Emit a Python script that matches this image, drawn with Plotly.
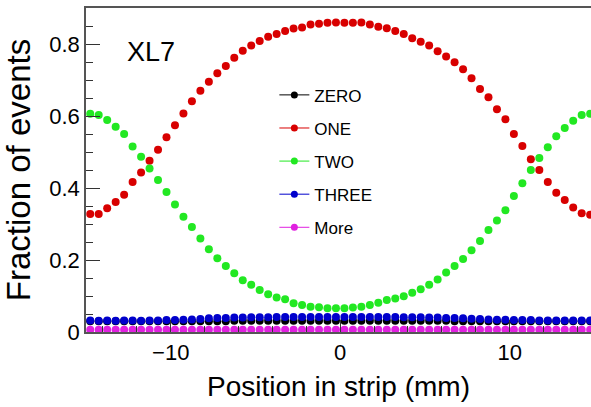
import plotly.graph_objects as go

# bin centres (mm)
x_pos = [-14.75 + 0.5 * i for i in range(60)]

zero = [0.030, 0.030, 0.030, 0.030, 0.030, 0.030, 0.030, 0.030, 0.030, 0.030,
        0.030, 0.030, 0.030, 0.030, 0.030, 0.030, 0.030, 0.031, 0.031, 0.031,
        0.031, 0.031, 0.031, 0.031, 0.031, 0.031, 0.031, 0.031, 0.031, 0.031,
        0.031, 0.031, 0.031, 0.031, 0.031, 0.031, 0.031, 0.031, 0.031, 0.031,
        0.031, 0.031, 0.031, 0.030, 0.030, 0.030, 0.030, 0.030, 0.030, 0.030,
        0.030, 0.030, 0.030, 0.030, 0.030, 0.030, 0.030, 0.030, 0.030, 0.030]

one = [0.328, 0.328, 0.344, 0.361, 0.381, 0.417, 0.443, 0.476, 0.506, 0.541,
       0.574, 0.607, 0.641, 0.670, 0.695, 0.719, 0.739, 0.762, 0.781, 0.796,
       0.808, 0.820, 0.828, 0.836, 0.843, 0.846, 0.854, 0.856, 0.859, 0.860,
       0.859, 0.859, 0.860, 0.854, 0.848, 0.844, 0.836, 0.828, 0.816, 0.806,
       0.796, 0.780, 0.765, 0.749, 0.730, 0.705, 0.675, 0.652, 0.619, 0.591,
       0.550, 0.517, 0.480, 0.450, 0.417, 0.387, 0.367, 0.346, 0.330, 0.326]

two = [0.606, 0.603, 0.589, 0.570, 0.550, 0.515, 0.487, 0.454, 0.422, 0.389,
       0.354, 0.320, 0.292, 0.260, 0.230, 0.205, 0.183, 0.163, 0.144, 0.131,
       0.117, 0.105, 0.096, 0.091, 0.080, 0.075, 0.070, 0.069, 0.066, 0.066,
       0.066, 0.068, 0.070, 0.075, 0.081, 0.089, 0.093, 0.099, 0.109, 0.119,
       0.131, 0.146, 0.165, 0.183, 0.203, 0.227, 0.253, 0.283, 0.310, 0.338,
       0.378, 0.413, 0.450, 0.483, 0.513, 0.544, 0.567, 0.587, 0.603, 0.606]

three = [0.032, 0.031, 0.032, 0.031, 0.032, 0.032, 0.031, 0.032, 0.032, 0.033,
         0.033, 0.034, 0.035, 0.036, 0.038, 0.039, 0.039, 0.040, 0.040, 0.041,
         0.041, 0.041, 0.042, 0.042, 0.042, 0.042, 0.042, 0.042, 0.042, 0.042,
         0.042, 0.042, 0.042, 0.042, 0.042, 0.042, 0.042, 0.041, 0.041, 0.041,
         0.040, 0.040, 0.039, 0.039, 0.038, 0.037, 0.036, 0.035, 0.034, 0.034,
         0.033, 0.033, 0.033, 0.032, 0.032, 0.032, 0.032, 0.032, 0.032, 0.032]

more = [0.006] * 60

names = ["ZERO", "ONE", "TWO", "THREE", "More"]
colors = ["#000000", "#d80000", "#22e822", "#0000cc", "#e020e0"]
series = [zero, one, two, three, more]

fig = go.Figure()
for name, col, ys in zip(names, colors, series):
    fig.add_trace(go.Scatter(x=x_pos, y=ys, mode="markers", name=name,
                             marker=dict(color=col, size=8, line=dict(width=0)),
                             showlegend=False, cliponaxis=False))
for name, col in zip(names, colors):
    fig.add_trace(go.Scatter(x=[None], y=[None], mode="lines+markers", name=name,
                             legendgroup=name,
                             marker=dict(color=col, size=7),
                             line=dict(color=col, width=1)))

fig.add_annotation(x=-11.15, y=0.778, xref="x", yref="y", text="XL7",
                   showarrow=False, font=dict(family="Liberation Sans", size=27, color="black"))

fig.update_layout(
    width=591, height=407,
    margin=dict(l=86, r=0, t=8, b=75),
    paper_bgcolor="white", plot_bgcolor="white",
    font=dict(family="Liberation Sans", color="black"),
    legend=dict(x=0.373, y=0.786, xanchor="left", yanchor="top",
                bgcolor="rgba(0,0,0,0)", font=dict(size=17, family="Liberation Sans"),
                tracegroupgap=8, itemwidth=30),
    xaxis=dict(range=[-15, 14.8], showgrid=False, zeroline=False,
               showline=True, linecolor="#555555", linewidth=1.5, mirror=True,
               ticks="inside", ticklen=12, tickcolor="#333333",
               tickvals=[-10, 0, 10],
               minor=dict(ticks="inside", ticklen=6, dtick=2, tickcolor="#333333"),
               tickfont=dict(size=22, family="Liberation Sans"),
               title=dict(text="Position in strip (mm)",
                          font=dict(size=28, family="Liberation Sans"),
                          standoff=12)),
    yaxis=dict(range=[0, 0.9], showgrid=False, zeroline=False,
               showline=True, linecolor="#555555", linewidth=1.5,
               ticks="inside", ticklen=14, tickcolor="#333333",
               tickvals=[0, 0.2, 0.4, 0.6, 0.8], ticktext=["0", "0.2", "0.4", "0.6", "0.8"],
               minor=dict(ticks="inside", ticklen=7, dtick=0.05, tickcolor="#333333"),
               tickfont=dict(size=22, family="Liberation Sans"),
               title=dict(text="Fraction of events",
                          font=dict(size=33, family="Liberation Sans"),
                          standoff=10)),
)

fig.write_html("out.html")
